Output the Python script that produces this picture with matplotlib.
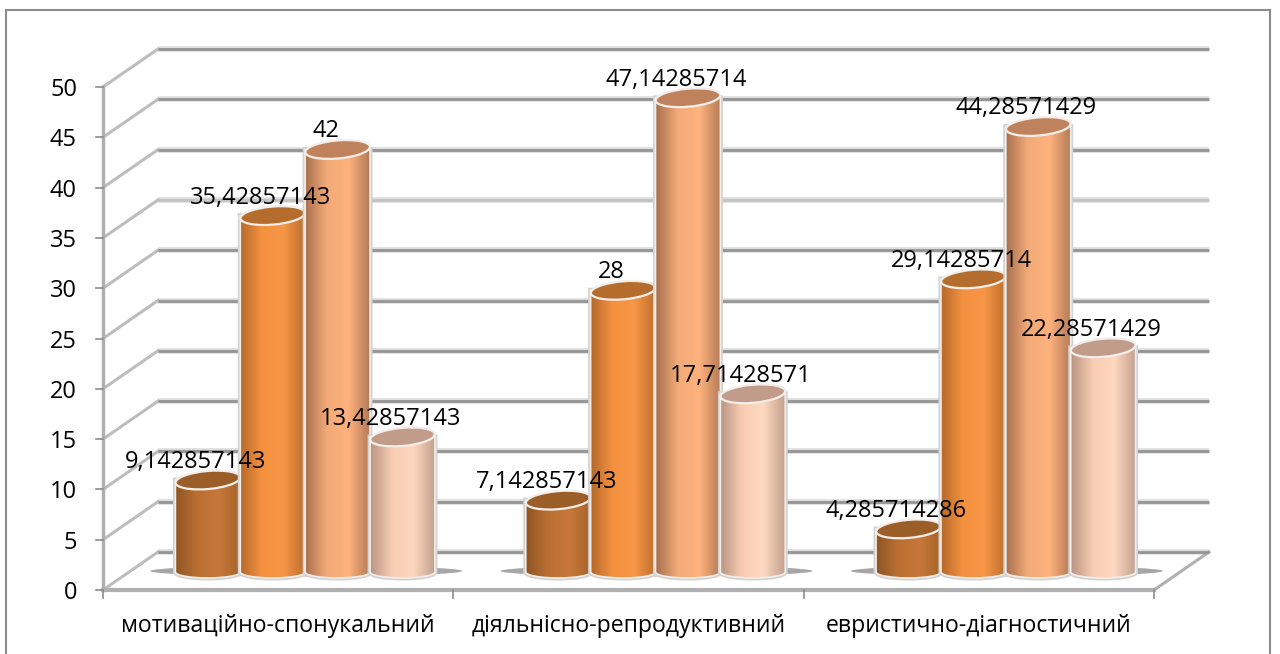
import matplotlib
matplotlib.use("Agg")
import matplotlib.pyplot as plt
from matplotlib.colors import LinearSegmentedColormap
from matplotlib.patches import Ellipse, PathPatch, Rectangle
from matplotlib.path import Path
from matplotlib.transforms import Affine2D
import numpy as np

plt.rcParams['font.family'] = ['Open Sans', 'DejaVu Sans']

# data
categories = ["мотиваційно-спонукальний", "діяльнісно-репродуктивний", "евристично-діагностичний"]
s1 = [9.142857143, 7.142857143, 4.285714286]
s2 = [35.42857143, 28, 29.14285714]
s3 = [42, 47.14285714, 44.28571429]
s4 = [13.42857143, 17.71428571, 22.28571429]
s1_txt = ["9,142857143", "7,142857143", "4,285714286"]
s2_txt = ["35,42857143", "28", "29,14285714"]
s3_txt = ["42", "47,14285714", "44,28571429"]
s4_txt = ["13,42857143", "17,71428571", "22,28571429"]
yticks = list(range(0, 55, 5))

W, H = 1280, 654
fig = plt.figure(figsize=(W / 100, H / 100), dpi=100)
ax = fig.add_axes([103 / W, 1 - 590 / H, 1051 / W, 503 / H])
ax.set_xlim(0, 3)
ax.set_ylim(0, 50)
ax.patch.set_alpha(0)
for sp in ax.spines.values():
    sp.set_visible(False)
ax.set_xticks([])
ax.set_yticks([])

# outer frame
fig.add_artist(Rectangle((6 / W, -0.01), 1264 / W, 1.01 - 10 / H, transform=fig.transFigure,
                         fill=False, ec="#8c8c8c", lw=1.5))

# depth offsets in pixels
back = Affine2D().translate(55, 38)
mid = Affine2D().translate(27, 18)
tr_back = ax.transData + back
tr_mid = ax.transData + mid

# walls and grid
for v in yticks:
    col = "#c4c4c4" if v == 35 else "#949494"
    ax.plot([0, 3], [v, v], transform=tr_back, color="#dcdcdc", lw=4, clip_on=False, zorder=1,
            solid_capstyle="butt")
    ax.plot([0, 3], [v, v], transform=tr_back, color=col, lw=2, clip_on=False, zorder=1.1,
            solid_capstyle="butt")
    p0 = ax.transData.transform((0, v))
    p1 = tr_back.transform((0, v))
    ax.plot([p0[0], p1[0]], [p0[1], p1[1]], transform=None, color="#bdbdbd", lw=2.2, clip_on=False, zorder=1)
    ax.plot([p0[0] - 7, p0[0]], [p0[1], p0[1]], transform=None, color="#8c8c8c", lw=1.2, clip_on=False, zorder=1.5)
    ax.text(p0[0] - 26, p0[1], str(v), transform=None, ha="right", va="center_baseline", fontsize=17,
            color="black")

# floor front edge and right edge, value axis line
a = ax.transData.transform((3, 0))
b = tr_back.transform((3, 0))
ax.plot([a[0], b[0]], [a[1], b[1]], transform=None, color="#b0b0b0", lw=2.2, clip_on=False, zorder=1)
ax.plot([0, 3], [0, 0], color="#b0b0b0", lw=3, clip_on=False, zorder=1.2)
ax.plot([0, 0], [0, 50], color="#b0b0b0", lw=2.5, clip_on=False, zorder=1.3)
for i in range(4):
    p = ax.transData.transform((i, 0))
    ax.plot([p[0], p[0]], [p[1], p[1] - 8], transform=None, color="#8c8c8c", lw=1.2, clip_on=False)

for i, c in enumerate(categories):
    ax.text(i + 0.5, -4.2, c, ha="center", va="baseline", fontsize=16.6, color="black", clip_on=False)

# cylinders
series = [s1, s2, s3, s4]
labels = [s1_txt, s2_txt, s3_txt, s4_txt]
side_cols = [["#8f5524", "#b96f31", "#c7783a", "#a86428"],
             ["#b5692c", "#f4913f", "#f79646", "#bd6f2e"],
             ["#a8704f", "#f2aa78", "#ffb27d", "#b37a57"],
             ["#b89482", "#f7ccb2", "#ffd8c0", "#c2a18e"]]
top_cols = ["#9c5e28", "#b56d2e", "#c0825c", "#c29c8a"]
bar_w = 65 / 351  # in category units
grad = np.linspace(0, 1, 256).reshape(1, -1)

# floor shadow under each group
for i in range(3):
    pc = tr_mid.transform((i + 0.5, 0))
    ax.add_patch(Ellipse((pc[0] + 1, pc[1] + 1), 312, 11, transform=None, fc="#808080", ec="none", alpha=0.7,
                         clip_on=False, zorder=1.6))

k = 0.5522847
for j, (vals, txt) in enumerate(zip(series, labels)):
    cmap = LinearSegmentedColormap.from_list("c%d" % j, side_cols[j])
    for i, v in enumerate(vals):
        xc = i + 0.5 + (j - 1.5) * bar_w
        z = 2 + i + j * 0.1
        (xl, yb) = tr_mid.transform((xc - bar_w / 2, 0))
        (xr, yt) = tr_mid.transform((xc + bar_w / 2, v))
        cx, rx, ry, rb = (xl + xr) / 2, (xr - xl) / 2, 9, 6
        verts = [(xl, yt), (xl, yb),
                 (xl, yb - k * rb), (cx - k * rx, yb - rb), (cx, yb - rb),
                 (cx + k * rx, yb - rb), (xr, yb - k * rb), (xr, yb),
                 (xr, yt), (xl, yt)]
        codes = [Path.MOVETO, Path.LINETO, Path.CURVE4, Path.CURVE4, Path.CURVE4,
                 Path.CURVE4, Path.CURVE4, Path.CURVE4, Path.LINETO, Path.CLOSEPOLY]
        ax.add_patch(PathPatch(Path(verts, codes), transform=None, fc="none", ec="#d2d2d2", lw=3.6,
                               clip_on=False, zorder=z))
        # gradient runs a little below zero so it fills the round base
        im = ax.imshow(grad, cmap=cmap, aspect="auto", extent=(xc - bar_w / 2, xc + bar_w / 2, -3, v),
                       zorder=z + 0.01, transform=tr_mid)
        clip = PathPatch(Path(verts, codes), transform=None, fc="none", ec="none")
        ax.add_patch(clip)
        im.set_clip_path(clip)
        ax.add_patch(PathPatch(Path(verts, codes), transform=None, fc="none", ec="#f3eee9", lw=1.2,
                               clip_on=False, zorder=z + 0.02))
        ax.add_patch(Ellipse((0, 0), 2 * rx, 2 * ry, transform=Affine2D().rotate_deg(5).translate(cx, yt),
                             fc=top_cols[j], ec="#f3eee9", lw=1.6, clip_on=False, zorder=z + 0.03))
        ax.text(xc - 12 / 351, v, txt[i], transform=tr_mid + Affine2D().translate(0, 6), ha="center", va="bottom",
                fontsize=17, color="black", clip_on=False, zorder=20)

ax.set_xlim(0, 3)
ax.set_ylim(0, 50)
fig.savefig("out.png", dpi=100)
